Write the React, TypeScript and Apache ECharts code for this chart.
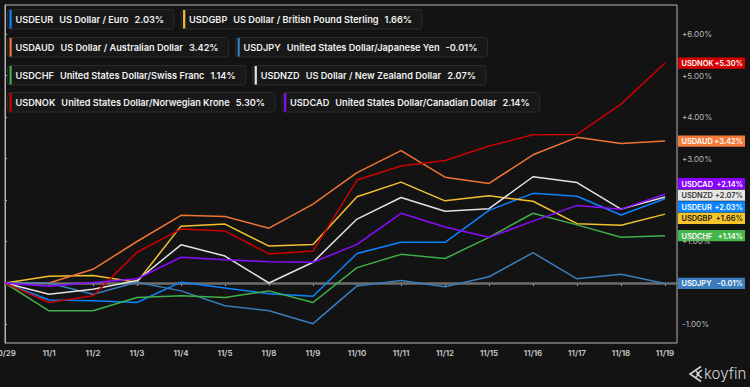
import React, { useEffect, useRef } from 'react';
import * as echarts from 'echarts';

const dates = ['10/29', '11/1', '11/2', '11/3', '11/4', '11/5', '11/8', '11/9', '11/10', '11/11', '11/12', '11/15', '11/16', '11/17', '11/18', '11/19'];
const codes = ['USDEUR', 'USDGBP', 'USDAUD', 'USDJPY', 'USDCHF', 'USDNZD', 'USDNOK', 'USDCAD'];
const names = [
  'US Dollar / Euro',
  'US Dollar / British Pound Sterling',
  'US Dollar / Australian Dollar',
  'United States Dollar/Japanese Yen',
  'United States Dollar/Swiss Franc',
  'US Dollar / New Zealand Dollar',
  'United States Dollar/Norwegian Krone',
  'United States Dollar/Canadian Dollar',
];
const colors = ['#0a84ff', '#f2c12e', '#f07434', '#3a7dbd', '#3fb049', '#e2e2e2', '#cc0000', '#8a0cff'];
const labelBg = ['#0a84ff', '#f7c52b', '#f47b3b', '#3b7dbd', '#45b649', '#e6e6e6', '#d40000', '#8800ff'];
const labelText = ['#ffffff', '#1a1a1a', '#ffffff', '#ffffff', '#ffffff', '#333333', '#ffffff', '#ffffff'];

const eur = [0, -0.41, -0.43, -0.47, 0.02, -0.12, -0.26, -0.32, 0.71, 0.98, 0.98, 1.75, 2.16, 2.09, 1.64, 2.03];
const gbp = [0, 0.16, 0.18, 0.02, 1.37, 1.42, 0.89, 0.93, 2.08, 2.43, 1.98, 2.10, 1.97, 1.43, 1.39, 1.66];
const aud = [0, 0.0, 0.33, 1.0, 1.63, 1.60, 1.32, 1.90, 2.66, 3.19, 2.55, 2.40, 3.09, 3.51, 3.36, 3.42];
const jpy = [0, 0.0, -0.27, 0.02, -0.19, -0.55, -0.67, -0.98, -0.07, 0.06, -0.09, 0.15, 0.73, 0.10, 0.21, -0.01];
const chf = [0, -0.67, -0.67, -0.35, -0.31, -0.35, -0.19, -0.47, 0.37, 0.69, 0.59, 1.10, 1.68, 1.40, 1.10, 1.14];
const nzd = [0, -0.27, -0.15, 0.06, 0.92, 0.65, 0.0, 0.50, 1.54, 2.06, 1.73, 1.79, 2.56, 2.42, 1.78, 2.07];
const nok = [0, -0.47, -0.31, 0.74, 1.30, 1.25, 0.70, 0.77, 2.48, 2.82, 2.95, 3.30, 3.57, 3.58, 4.31, 5.30];
const cad = [0, -0.08, 0.01, 0.10, 0.62, 0.56, 0.51, 0.50, 0.93, 1.68, 1.35, 1.10, 1.49, 1.87, 1.78, 2.14];
const seriesValues = [eur, gbp, aud, jpy, chf, nzd, nok, cad];

const yTicks = [-1, 0, 1, 2, 3, 4, 5, 6];
const yLabelTicks = [-1, 1, 3, 4, 5, 6];
const xIdx = dates.map((_, i) => i);

const FONT = 'Inter, "Noto Sans", sans-serif';

function measure(text: string, font: string): number {
  const c = document.createElement('canvas');
  const ctx = c.getContext('2d')!;
  ctx.font = font;
  return ctx.measureText(text).width;
}

const fmtPct = (v: number) => v.toFixed(2) + '%';
const fmtSigned = (v: number) => (v > 0 ? '+' : '') + v.toFixed(2) + '%';

export default function App() {
  const ref = useRef<HTMLDivElement>(null);
  useEffect(() => {
    document.body.style.margin = '0';
    const chart = echarts.init(ref.current!, null, { renderer: 'svg' });

    const series: any[] = seriesValues.map((vals, k) => ({
      type: 'line',
      name: codes[k],
      data: vals.map((v, i) => [i, v]),
      showSymbol: false,
      symbol: 'none',
      lineStyle: { color: colors[k], width: 1.5 },
      itemStyle: { color: colors[k] },
      z: 3,
      markLine: k === 3 ? {
        silent: true,
        symbol: ['none', 'none'],
        label: { show: false },
        lineStyle: { color: '#6e6e6e', width: 2.5, type: 'solid' },
        data: [{ yAxis: 0 }],
        z: 2,
      } : undefined,
    }));

    const option: any = {
      animation: false,
      backgroundColor: '#131313',
      grid: { left: 5, right: 73, top: 5, bottom: 44, show: true, borderColor: '#b5b5b5', borderWidth: 1, outerBoundsMode: 'none', containLabel: false },
      xAxis: {
        type: 'value',
        min: 0,
        max: 15 + 12 / 44,
        axisLine: { show: true, lineStyle: { color: '#b5b5b5' } },
        axisTick: { show: true, length: 3, lineStyle: { color: '#b5b5b5' }, customValues: xIdx },
        axisLabel: {
          color: '#cccccc', fontSize: 8, fontFamily: FONT, fontWeight: 600, margin: 6,
          customValues: xIdx,
          alignMinLabel: 'center',
          hideOverlap: false,
          formatter: (v: number) => dates[Math.round(v)] ?? '',
        },
        splitLine: { show: false },
      },
      yAxis: {
        type: 'value',
        position: 'right',
        min: -1.446,
        max: 6.699,
        axisLine: { show: true, lineStyle: { color: '#b5b5b5' } },
        axisTick: { show: true, length: 2, lineStyle: { color: '#b5b5b5' }, customValues: yTicks },
        axisLabel: {
          color: '#b8b8b8', fontSize: 8, fontFamily: FONT, margin: 5,
          customValues: yLabelTicks,
          formatter: (v: number) => fmtSigned(v),
        },
        splitLine: { show: false },
      },
      series,
    };
    chart.setOption(option);

    // Legend boxes
    const graphics: any[] = [];
    const lfont = `600 9.2px ${FONT}`;
    const rowTops = [9.5, 37.5, 65.5, 92.5];
    for (let r = 0; r < 4; r++) {
      let x = 7.5;
      for (let c = 0; c < 2; c++) {
        const k = r * 2 + c;
        const last = seriesValues[k][seriesValues[k].length - 1];
        const wc = measure(codes[k], lfont);
        const wn = measure(names[k], lfont);
        const wv = measure(fmtPct(last), lfont);
        const x1 = 8;
        const x2 = x1 + wc + 6;
        const x3 = x2 + wn + 6;
        const w = x3 + wv + 10;
        const ts = { fill: '#f0f0f0', font: lfont, verticalAlign: 'middle', align: 'left' };
        graphics.push({
          type: 'group', x, y: rowTops[r], z: 50,
          children: [
            { type: 'rect', shape: { x: 0, y: 0, width: w, height: 19.5, r: 3 }, style: { fill: '#181818', stroke: '#2c2c2c', lineWidth: 1 } },
            { type: 'rect', shape: { x: 2, y: 0.5, width: 2.2, height: 18.5 }, style: { fill: colors[k] } },
            { type: 'text', x: x1, y: 10, style: { ...ts, text: codes[k] } },
            { type: 'text', x: x2, y: 10, style: { ...ts, text: names[k] } },
            { type: 'text', x: x3, y: 10, style: { ...ts, text: fmtPct(last) } },
          ],
        });
        x += w + 7;
      }
    }

    // End labels at right axis with overlap avoidance
    const H = 11.6;
    const items = seriesValues.map((vals, k) => {
      const last = vals[vals.length - 1];
      const y = chart.convertToPixel({ yAxisIndex: 0 }, last) as number;
      return { k, last, y, pos: y };
    }).sort((a, b) => a.y - b.y);
    let clusters = items.map((it) => ({ members: [it], center: it.y }));
    let merged = true;
    while (merged) {
      merged = false;
      for (let i = 0; i < clusters.length - 1; i++) {
        const a = clusters[i], b = clusters[i + 1];
        const aBottom = a.center + (a.members.length * H) / 2;
        const bTop = b.center - (b.members.length * H) / 2;
        if (aBottom > bTop) {
          const members = a.members.concat(b.members);
          const center = members.reduce((s, m) => s + m.y, 0) / members.length;
          clusters.splice(i, 2, { members, center });
          merged = true;
          break;
        }
      }
    }
    clusters.forEach((cl) => {
      const top = cl.center - (cl.members.length * H) / 2;
      cl.members.forEach((m, j) => { m.pos = top + H * (j + 0.5); });
    });
    const efont = `600 7.4px ${FONT}`;
    items.forEach((it) => {
      graphics.push({
        type: 'group', x: 678, y: it.pos, z: 60,
        children: [
          { type: 'rect', shape: { x: 0, y: -5.6, width: 67, height: 11.2 }, style: { fill: labelBg[it.k] } },
          { type: 'text', x: 3.5, y: 0.5, style: { text: codes[it.k], fill: labelText[it.k], font: efont, verticalAlign: 'middle', align: 'left' } },
          { type: 'text', x: 65, y: 0.5, style: { text: fmtSigned(it.last), fill: labelText[it.k], font: efont, verticalAlign: 'middle', align: 'right' } },
        ],
      });
    });

    // koyfin logo
    graphics.push({
      type: 'group', x: 0, y: 0, z: 60,
      children: [
        { type: 'polyline', shape: { points: [[701, 366.5], [690, 374], [701, 381.5]] }, style: { stroke: '#d0d0d0', lineWidth: 1.6, fill: 'none' } },
        { type: 'polyline', shape: { points: [[702, 370], [697, 374], [702, 378]] }, style: { stroke: '#d0d0d0', lineWidth: 1.6, fill: 'none' } },
        { type: 'polyline', shape: { points: [[695, 370], [699, 374], [695, 378]] }, style: { stroke: '#d0d0d0', lineWidth: 1.2, fill: 'none' } },
        { type: 'text', x: 704, y: 373, style: { text: 'koyfin', fill: '#d4d4d4', font: `300 15px ${FONT}`, verticalAlign: 'middle', align: 'left' } },
      ],
    });

    chart.setOption({ graphic: graphics });
    return () => chart.dispose();
  }, []);
  return <div ref={ref} style={{ position: 'absolute', left: 0, top: 0, width: 750, height: 387 }} />;
}
